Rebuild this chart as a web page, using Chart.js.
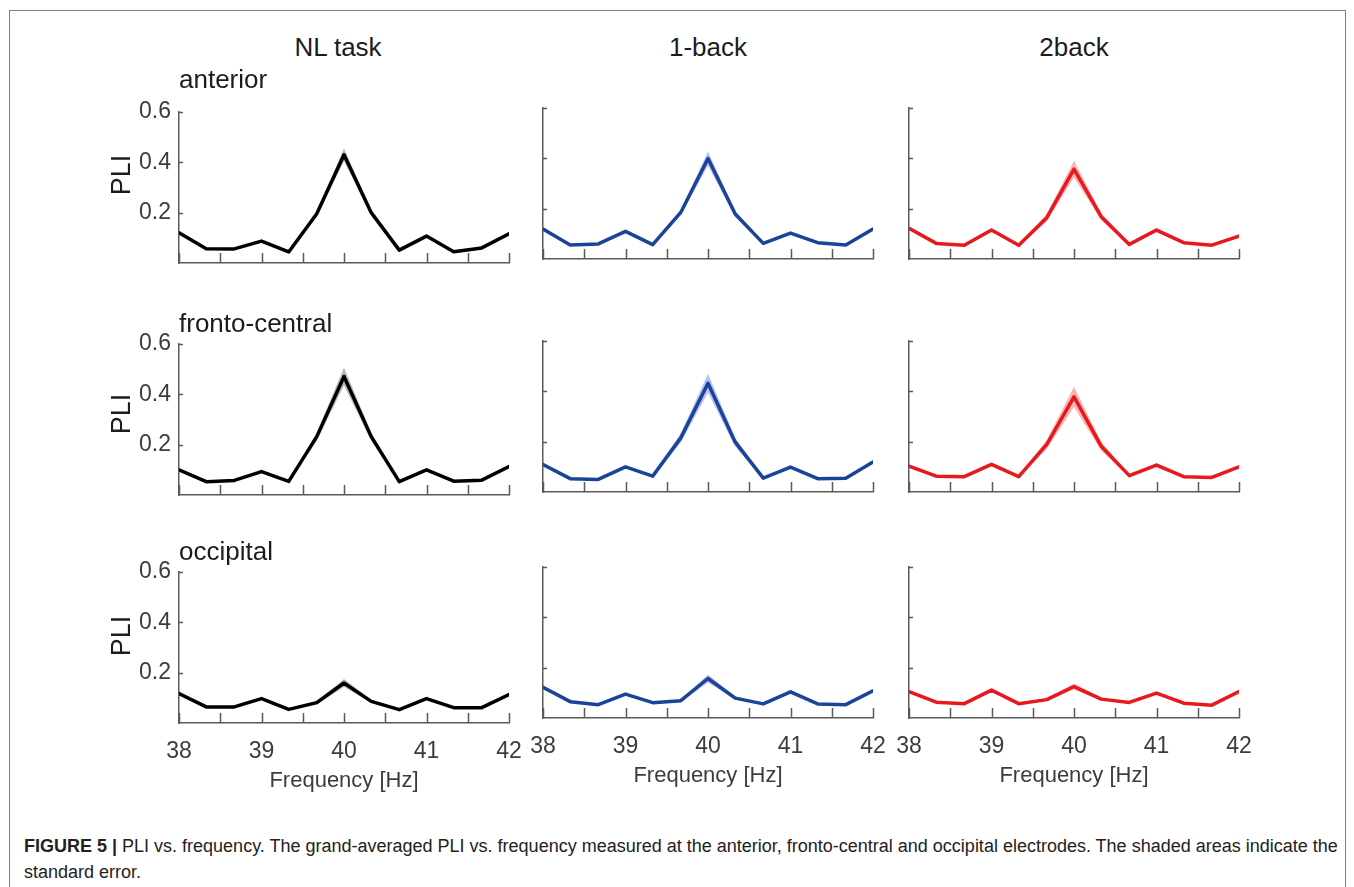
<!DOCTYPE html>
<html>
<head>
<meta charset="utf-8">
<title>PLI vs. frequency</title>
<script src="https://cdn.jsdelivr.net/npm/chart.js@4.4.1/dist/chart.umd.min.js"></script>
<style>
  html, body { margin: 0; padding: 0; background: #fff; }
  body {
    width: 1354px; height: 887px; position: relative; overflow: hidden;
    font-family: "Liberation Sans", Arial, sans-serif;
  }
  .frame {
    position: absolute; left: 9px; top: 10px; width: 1337px; height: 900px;
    border: 1.5px solid #808080; box-sizing: border-box;
  }
  canvas.panel { position: absolute; z-index: 1; }
  .txt { position: absolute; z-index: 2; white-space: nowrap; line-height: 1; color: #1c1c1c; }
  .head { font-size: 26px; transform: translateX(-50%); }
  .region { font-size: 26px; }
  .ylab { font-size: 27px; transform: translate(-50%, -50%) rotate(-90deg); }
  .caption {
    position: absolute; left: 24px; top: 833px; z-index: 2;
    font-size: 18px; line-height: 26px; color: #222; white-space: nowrap;
  }
  .caption b { font-weight: bold; }
</style>
</head>
<body>
<div class="frame"></div>
<div id="fig"></div>
<div class="caption"><b>FIGURE 5 |</b> PLI vs. frequency. The grand-averaged PLI vs. frequency measured at the anterior, fronto-central and occipital electrodes. The shaded areas indicate the<br>standard error.</div>

<script>
// Frequency bins (Hz) and axis ticks
const freqHz = [38, 38.33, 38.67, 39, 39.33, 39.67, 40, 40.33, 40.67, 41, 41.33, 41.67, 42];
const freqTickLabels = [38, 39, 40, 41, 42];
const freqTickMarks = [38, 38.5, 39, 39.5, 40, 40.5, 41, 41.5, 42];
const pliTickLabels = [0.2, 0.4, 0.6];

const conditions = ['NL task', '1-back', '2back'];
const regions = ['anterior', 'fronto-central', 'occipital'];

// Grand-averaged PLI and its standard error, per region and condition
const nlAnterior      = [0.120, 0.057, 0.056, 0.087, 0.044, 0.196, 0.430, 0.200, 0.051, 0.107, 0.045, 0.060, 0.116];
const nlAnteriorSE    = [0.006, 0.004, 0.004, 0.004, 0.004, 0.010, 0.026, 0.010, 0.004, 0.005, 0.004, 0.004, 0.006];
const oneAnterior     = [0.119, 0.056, 0.060, 0.110, 0.057, 0.185, 0.399, 0.179, 0.062, 0.103, 0.065, 0.056, 0.119];
const oneAnteriorSE   = [0.008, 0.004, 0.004, 0.006, 0.004, 0.010, 0.028, 0.012, 0.004, 0.005, 0.004, 0.004, 0.006];
const twoAnterior     = [0.122, 0.062, 0.055, 0.115, 0.055, 0.164, 0.357, 0.168, 0.058, 0.115, 0.065, 0.055, 0.091];
const twoAnteriorSE   = [0.006, 0.004, 0.004, 0.006, 0.004, 0.015, 0.033, 0.014, 0.005, 0.008, 0.004, 0.004, 0.006];

const nlFronto        = [0.100, 0.053, 0.058, 0.093, 0.054, 0.232, 0.471, 0.232, 0.053, 0.100, 0.055, 0.059, 0.113];
const nlFrontoSE      = [0.005, 0.004, 0.004, 0.004, 0.004, 0.016, 0.036, 0.016, 0.004, 0.004, 0.004, 0.004, 0.005];
const oneFronto       = [0.109, 0.053, 0.050, 0.100, 0.063, 0.215, 0.432, 0.198, 0.055, 0.099, 0.053, 0.055, 0.119];
const oneFrontoSE     = [0.005, 0.004, 0.004, 0.004, 0.004, 0.018, 0.038, 0.018, 0.004, 0.004, 0.004, 0.004, 0.006];
const twoFronto       = [0.103, 0.063, 0.061, 0.110, 0.061, 0.189, 0.378, 0.182, 0.065, 0.107, 0.061, 0.058, 0.100];
const twoFrontoSE     = [0.005, 0.004, 0.004, 0.005, 0.004, 0.018, 0.040, 0.018, 0.004, 0.007, 0.004, 0.004, 0.005];

const nlOccipital     = [0.117, 0.064, 0.064, 0.097, 0.054, 0.081, 0.159, 0.086, 0.053, 0.097, 0.061, 0.061, 0.113];
const nlOccipitalSE   = [0.005, 0.004, 0.004, 0.004, 0.004, 0.006, 0.016, 0.006, 0.004, 0.004, 0.004, 0.004, 0.006];
const oneOccipital    = [0.122, 0.065, 0.053, 0.095, 0.061, 0.069, 0.157, 0.079, 0.056, 0.104, 0.056, 0.053, 0.108];
const oneOccipitalSE  = [0.006, 0.004, 0.004, 0.004, 0.004, 0.005, 0.016, 0.006, 0.004, 0.006, 0.004, 0.004, 0.006];
const twoOccipital    = [0.105, 0.063, 0.057, 0.111, 0.057, 0.073, 0.125, 0.075, 0.062, 0.099, 0.059, 0.051, 0.105];
const twoOccipitalSE  = [0.005, 0.004, 0.004, 0.005, 0.004, 0.005, 0.012, 0.005, 0.004, 0.004, 0.004, 0.004, 0.005];

const panelData = [
  [[nlAnterior, nlAnteriorSE], [oneAnterior, oneAnteriorSE], [twoAnterior, twoAnteriorSE]],
  [[nlFronto, nlFrontoSE],     [oneFronto, oneFrontoSE],     [twoFronto, twoFrontoSE]],
  [[nlOccipital, nlOccipitalSE], [oneOccipital, oneOccipitalSE], [twoOccipital, twoOccipitalSE]]
];

// Per-condition styling
const lineColors = ['#000000', '#1a4597', '#e8191d'];
const bandColors = ['rgba(140,140,140,0.6)', 'rgba(125,125,250,0.5)', 'rgba(242,110,110,0.5)'];

// Page layout of the 3x3 grid of axes
const AXIS_LEFT = [179, 543, 909];
const AXIS_TOP = [[112, 108, 108], [344, 341, 341], [572, 567, 567]];
const PLOT_W = 330, PLOT_H = 151;
const PAD_L = 20, Y_W = 50, PAD_T = 30, PAD_R = 40, PAD_B = 10, X_H = 69;
const AXIS_COLOR = '#5a5a5a';
const TICK_COLOR = '#3c3c3c';
const SANS = '"Liberation Sans", Arial, sans-serif';

Chart.defaults.font.family = SANS;

// Tick marks pointing into the plot area
const inwardTicks = {
  id: 'inwardTicks',
  afterDraw(chart) {
    const {ctx, chartArea, scales} = chart;
    ctx.save();
    ctx.strokeStyle = AXIS_COLOR;
    ctx.lineWidth = 1.5;
    ctx.beginPath();
    freqTickMarks.forEach(v => {
      const px = Math.round(scales.x.getPixelForValue(v)) + 0.5;
      ctx.moveTo(px, chartArea.bottom);
      ctx.lineTo(px, chartArea.bottom - 10);
    });
    pliTickLabels.forEach(v => {
      const py = Math.round(scales.y.getPixelForValue(v)) + 0.5;
      ctx.moveTo(chartArea.left, py);
      ctx.lineTo(chartArea.left + 4, py);
    });
    ctx.stroke();
    ctx.restore();
  }
};

const fig = document.getElementById('fig');

function addText(cls, text, left, top) {
  const d = document.createElement('div');
  d.className = 'txt ' + cls;
  d.textContent = text;
  d.style.left = left + 'px';
  d.style.top = top + 'px';
  fig.appendChild(d);
}

conditions.forEach((name, c) => addText('head', name, AXIS_LEFT[c] + PLOT_W / 2 - (c === 0 ? 6 : 0), 34));
const regionTops = [66, 310, 538];
regions.forEach((name, r) => addText('region', name, 179, regionTops[r]));
const ylabCenters = [175, 414, 636];
ylabCenters.forEach(y => addText('ylab', 'PLI', 121, y));

function makePanel(r, c) {
  const [mean, se] = panelData[r][c];
  const showX = r === 2;
  const showY = c === 0;
  const canvas = document.createElement('canvas');
  const w = PAD_L + Y_W + PLOT_W + PAD_R;
  const h = PAD_T + PLOT_H + X_H + PAD_B;
  canvas.className = 'panel';
  canvas.width = w; canvas.height = h;
  canvas.style.width = w + 'px'; canvas.style.height = h + 'px';
  canvas.style.left = (AXIS_LEFT[c] - PAD_L - Y_W) + 'px';
  canvas.style.top = (AXIS_TOP[r][c] - PAD_T) + 'px';
  fig.appendChild(canvas);

  const upper = freqHz.map((f, i) => ({x: f, y: mean[i] + se[i]}));
  const lower = freqHz.map((f, i) => ({x: f, y: mean[i] - se[i]}));
  const line = freqHz.map((f, i) => ({x: f, y: mean[i]}));

  new Chart(canvas, {
    type: 'line',
    data: {
      datasets: [
        {data: upper, order: 2, borderWidth: 0, pointRadius: 0, fill: false, borderColor: 'rgba(0,0,0,0)'},
        {data: lower, order: 1, borderWidth: 0, pointRadius: 0, fill: '-1', backgroundColor: bandColors[c], borderColor: 'rgba(0,0,0,0)'},
        {data: line, order: 0, borderWidth: 3.5, pointRadius: 0, fill: false, borderColor: lineColors[c],
         borderJoinStyle: 'round', borderCapStyle: 'round', tension: 0}
      ]
    },
    options: {
      responsive: false,
      animation: false,
      devicePixelRatio: 1,
      events: [],
      layout: {padding: {left: PAD_L, top: PAD_T, right: PAD_R, bottom: PAD_B}},
      plugins: {
        legend: {display: false},
        tooltip: {enabled: false},
        filler: {drawTime: 'beforeDatasetsDraw'}
      },
      scales: {
        x: {
          type: 'linear', min: 38, max: 42,
          grid: {display: false, drawTicks: false},
          border: {display: true, color: AXIS_COLOR, width: 1.5},
          ticks: {
            display: showX, autoSkip: false, maxRotation: 0, padding: 15,
            color: TICK_COLOR, font: {size: 23, family: SANS},
            callback: v => String(v)
          },
          afterBuildTicks: s => { s.ticks = freqTickLabels.map(v => ({value: v})); },
          afterFit: s => { s.height = X_H; },
          title: {
            display: showX, text: 'Frequency [Hz]', color: TICK_COLOR, padding: 0,
            font: {size: 22, family: SANS, lineHeight: 1}
          }
        },
        y: {
          type: 'linear', min: 0, max: 0.6,
          grid: {display: false, drawTicks: false},
          border: {display: true, color: AXIS_COLOR, width: 1.5},
          ticks: {
            display: showY, padding: 8, color: TICK_COLOR,
            font: {size: 23, family: SANS},
            callback: v => v.toFixed(1)
          },
          afterBuildTicks: s => { s.ticks = pliTickLabels.map(v => ({value: v})); },
          afterFit: s => { s.width = Y_W; }
        }
      }
    },
    plugins: [inwardTicks]
  });
}

for (let r = 0; r < 3; r++) {
  for (let c = 0; c < 3; c++) makePanel(r, c);
}
</script>
</body>
</html>
